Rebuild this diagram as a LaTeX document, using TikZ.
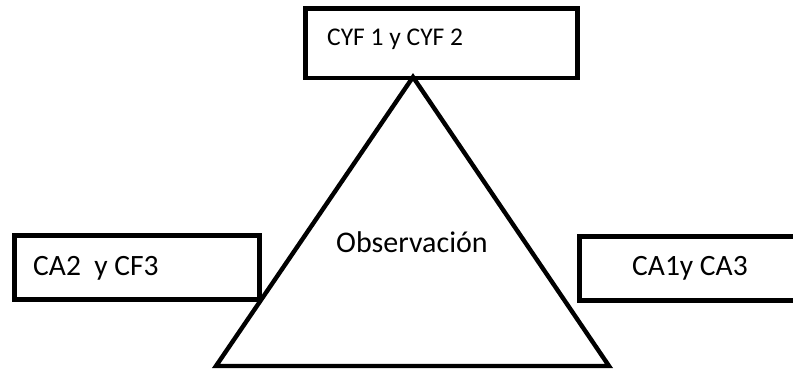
\documentclass[tikz,border=0pt]{standalone}
\usepackage{fontspec}
\setmainfont{Carlito}
\begin{document}
\begin{tikzpicture}[x=1pt,y=-1pt,
  box/.style={draw=black, line width=4.6pt, fill=white, rectangle, inner sep=0pt},
  openbox/.style={fill=white, rectangle, inner sep=0pt, outer sep=0pt},
  edge/.style={draw=black, line width=4.6pt, line join=miter, line cap=butt},
  lbl/.style={inner sep=0pt, anchor=base west, text=black},
  tri/.style={draw=black, line width=4.4pt, line join=miter}]
\useasboundingbox (0,0) rectangle (793,370);
% boxes
\node[box, minimum width=272pt, minimum height=69.5pt] (top) at (441.5,43.25) {};
\node[box, minimum width=245pt, minimum height=64pt] (left) at (137,267.5) {};
\node[openbox, minimum width=213.5pt, minimum height=64pt] (right) at (686.25,268.5) {};
\draw[edge] (right.north east) -- (right.north west) -- (right.south west) -- (right.south east);
% triangle
\coordinate (apex) at (413,77);
\coordinate (bl) at (216,366);
\coordinate (br) at (609,366);
\draw[tri] (apex) -- (bl) -- (br) -- cycle;
% texts
\node[lbl, font=\fontsize{25.5}{30}\selectfont] (ttop) at (327,45) {CYF 1 y CYF 2};
\node[lbl, font=\fontsize{29.5}{34}\selectfont] (tleft) at (33,275) {CA2\ \ y CF3};
\node[lbl, font=\fontsize{29.5}{34}\selectfont] (tright) at (632,275) {CA1y CA3};
\node[lbl, font=\fontsize{30}{35}\selectfont] (obs) at (336,252) {Observación};
\end{tikzpicture}
\end{document}
